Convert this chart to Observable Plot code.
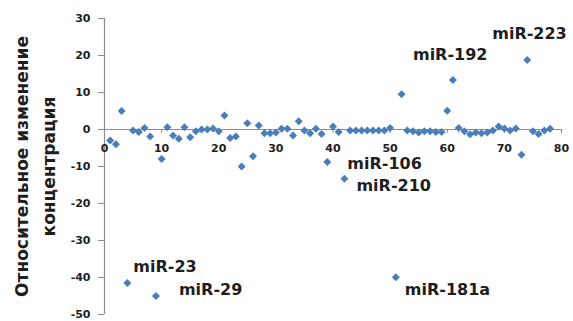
<!DOCTYPE html>
<html>
<head>
<meta charset="utf-8">
<script src="https://cdn.jsdelivr.net/npm/d3@7"></script>
<script src="https://cdn.jsdelivr.net/npm/@observablehq/plot@0.6"></script>
<style>
  html, body { margin: 0; padding: 0; background: #fff; }
  #chart svg { display: block; }
</style>
</head>
<body>
<div id="chart"></div>
<script>
// ---- data ----
const sampleIndex = d3.range(1, 79); // 1..78
const relativeChange = [
  -3, -4, 5, -41.5, -0.3, -0.7, 0.4, -1.9, -45, -8,
  0.6, -1.6, -2.5, 0.6, -2.1, -0.5, 0, 0, 0.3, -0.5,
  3.8, -2.3, -1.9, -10, 1.7, -7.2, 1.1, -1, -1, -0.8,
  0.2, 0.2, -1.6, 2.2, -0.3, -1, 0.2, -1.2, -8.8, 0.8,
  -0.7, -13.3, -0.3, -0.3, -0.3, -0.3, -0.3, -0.3, -0.3, 0.4,
  -39.9, 9.5, -0.3, -0.5, -0.8, -0.5, -0.5, -0.7, -0.7, 5.1,
  13.4, 0.4, -0.5, -1.3, -0.8, -1, -0.8, -0.3, 0.8, 0.3,
  -0.3, 0.3, -6.8, 18.8, -0.5, -1.2, -0.3, 0.2
];
const xTicks = [0, 10, 20, 30, 40, 50, 60, 70, 80];
const yTicks = [30, 20, 10, 0, -10, -20, -30, -40, -50];
const labelNames = ["miR-223", "miR-192", "miR-106", "miR-210", "miR-23", "miR-29", "miR-181a"];
const labelPoints = [74, 61, 39, 42, 4, 9, 51];
const yTitle = "Относительное изменение\nконцентрация";

// ---- table built from arrays ----
const points = sampleIndex.map((x, i) => ({x, y: relativeChange[i]}));
const labels = labelNames.map((name, i) => ({name, x: labelPoints[i], y: relativeChange[labelPoints[i] - 1]}));

// label offsets (pixels, style only)
const labelOffsets = {
  "miR-223": [-35, -26],
  "miR-192": [-40, -25],
  "miR-106": [20, 2],
  "miR-210": [12, 7],
  "miR-23": [6, -16],
  "miR-29": [23, -6],
  "miR-181a": [9, 13]
};

const axisColor = "#8c8c8c";
const textColor = "#1e1e1e";
const font = "DejaVu Sans, sans-serif";

const labelMarks = labels.map(d => Plot.text([d], {
  x: "x", y: "y", text: "name",
  dx: labelOffsets[d.name][0], dy: labelOffsets[d.name][1],
  textAnchor: "start", lineAnchor: "middle",
  fontSize: 16, fontWeight: "bold", fill: textColor, fontFamily: font
}));

const chart = Plot.plot({
  width: 573,
  height: 321,
  marginLeft: 104,
  marginRight: 12,
  marginTop: 18,
  marginBottom: 7,
  style: {fontFamily: font, color: textColor, background: "#fff"},
  x: {domain: [0, 80], axis: null},
  y: {domain: [-50, 30], axis: null},
  marks: [
    Plot.ruleX([0], {stroke: axisColor, strokeWidth: 1.2}),
    Plot.ruleY([0], {x1: () => 0, x2: () => 80, stroke: axisColor, strokeWidth: 1.2}),
    Plot.ruleX(xTicks, {x: d => d, y1: () => 0, y2: () => 0, insetBottom: -4, stroke: axisColor}),
    Plot.text(xTicks, {x: d => d, y: () => 0, text: d => String(d), dy: 19,
      fontSize: 11, fontWeight: "bold", fill: textColor}),
    Plot.axisY({ticks: yTicks, label: null, tickSize: 6, tickPadding: 8, tickFormat: d => String(d),
      stroke: axisColor, fill: textColor, fontSize: 11, fontWeight: "bold"}),
    Plot.text([yTitle], {frameAnchor: "left", text: d => d, rotate: -90, dx: -72,
      lineHeight: 1.6, textAnchor: "middle", lineAnchor: "middle",
      fontSize: 17, fontWeight: "bold", fill: textColor}),
    Plot.dot(points, {x: "x", y: "y", symbol: "diamond2", r: 3.6, fill: "#4a7ebb", stroke: "none"}),
    ...labelMarks
  ]
});

document.getElementById("chart").appendChild(chart);
</script>
</body>
</html>
